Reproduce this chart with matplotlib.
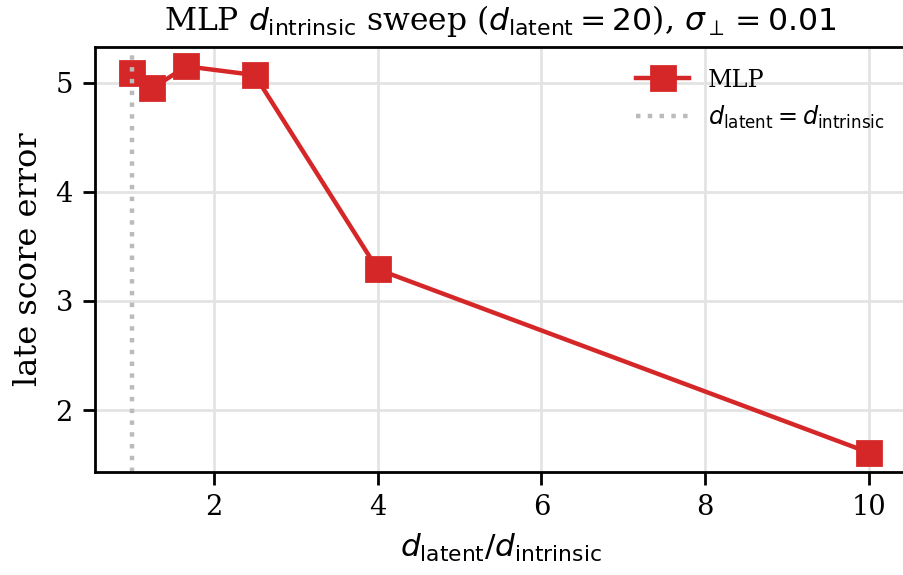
import matplotlib
matplotlib.use("Agg")
import matplotlib.pyplot as plt

ratio = [1.0, 1.25, 1.6667, 2.5, 4.0, 10.0]
late_error = [5.09, 4.95, 5.15, 5.07, 3.29, 1.61]

plt.rcParams['font.family'] = 'DejaVu Serif'
plt.rcParams['mathtext.fontset'] = 'dejavusans'

fig = plt.figure(figsize=(4.52, 2.875), dpi=200)
ax = fig.add_axes([95/904, 1-472/575, (906-95)/904, (472-47)/575])

ax.grid(True, color='#e3e3e3', linewidth=1.0)
ax.set_axisbelow(True)
ax.plot(ratio, late_error, color='#d62728', marker='s', markersize=8.5, linewidth=1.6, label='MLP')
ax.axvline(1.0, color='#bbbbbb', linestyle=':', linewidth=1.6, label=r'$d_{\mathrm{latent}} = d_{\mathrm{intrinsic}}$')

ax.set_xticks([2, 4, 6, 8, 10])
ax.set_yticks([2, 3, 4, 5])
ax.tick_params(labelsize=9.8, width=1.0, length=4.5)
for s in ax.spines.values():
    s.set_linewidth(1.0)

ax.set_xlabel(r'$d_{\mathrm{latent}}/d_{\mathrm{intrinsic}}$', fontsize=11.2)
ax.set_ylabel('late score error', fontsize=11.5)
ax.set_title(r'MLP $d_{\mathrm{intrinsic}}$ sweep ($d_{\mathrm{latent}} = 20$), $\sigma_\perp = 0.01$', fontsize=11.3)
ax.legend(loc='upper right', frameon=False, fontsize=8.6, handlelength=2.2)

fig.savefig('out.png', dpi=200)
